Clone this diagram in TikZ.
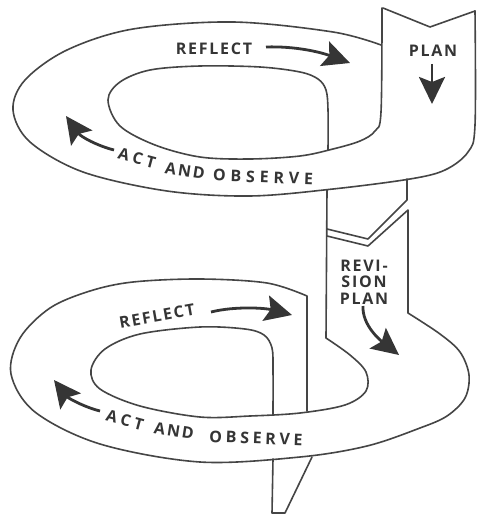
\documentclass[tikz,border=0pt]{standalone}
\usepackage{fontspec}
\newfontfamily\lblfont{Open Sans}[LetterSpace=11]
\newfontfamily\curvfont{Open Sans}[LetterSpace=12]
\newfontfamily\actfont{Open Sans}[LetterSpace=24]
\newfontfamily\widefont{Open Sans}[LetterSpace=30]
\newfontfamily\midfont{Open Sans}[LetterSpace=23]
\usetikzlibrary{arrows.meta}
\definecolor{ink}{HTML}{454545}
\definecolor{txt}{HTML}{353535}
\begin{document}
\begin{tikzpicture}[x=1pt,y=-1pt,
  edge/.style={draw=ink,line width=1.6pt,line join=round,line cap=round},
  arr/.style={draw=txt,line width=2.8pt,-{Stealth[length=27pt,width=26pt,inset=5pt]}},
  lbl/.style={text=txt,font=\lblfont\bfseries\fontsize{16}{16.5}\selectfont,inner sep=0pt},
  wrd/.style={text=txt,font=\curvfont\bfseries\fontsize{16}{16}\selectfont,inner sep=0pt},
  wrdact/.style={text=txt,font=\actfont\bfseries\fontsize{16}{16}\selectfont,inner sep=0pt},
  wrdwide/.style={text=txt,font=\widefont\bfseries\fontsize{16}{16}\selectfont,inner sep=0pt},
  wrdmid/.style={text=txt,font=\midfont\bfseries\fontsize{16}{16}\selectfont,inner sep=0pt}]
\useasboundingbox[fill=white] (0,0) rectangle (476,516);

% ---------- upper loop ----------
% outer edge: PLAN strip right edge, front bottom, left, back top
\draw[edge] plot[smooth,tension=0.55] coordinates {(475,11) (475,125) (468,152) (445,170) (410,179)
  (333,189) (250,196) (167,191) (83,172) (30,142) (13,110) (25,80) (67,50) (133,29) (233,22) (333,32) (381,45)};
% inner edge: PLAN strip left edge, front inner, back inner, down into middle strip
\draw[edge] plot[smooth,tension=0.55] coordinates {(382,8) (381,112) (375,131) (360,141) (333,149)
  (300,156) (250,159) (200,157) (155,145) (120,126) (108,100) (120,82) (150,70) (200,66) (260,67)
  (300,72) (318,79) (326,90) (328,110) (328,150)};
% PLAN strip notch
\draw[edge] (383,8) -- (430,27) -- (475,11);
% middle strip below the upper loop
\draw[edge] (407,179) -- (407,200) -- (368,239) -- (327,229);
% revision strip and lower loop outer edge
\draw[edge] (327,236) -- (368,246) -- (408,210) -- (408,313) -- plot[smooth,tension=0.55] coordinates {
  (408,313) (440,334) (460,352) (469,375) (465,398) (447,416) (420,428) (367,446) (300,457)
  (200,462) (100,444) (35,412) (11,374) (20,338) (50,308) (90,291) (133,282) (200,279) (267,283) (307,296)}
  -- (307,411);
% shared left edge and lower loop inner edge
\draw[edge] (327,190) -- (326,338) -- plot[smooth,tension=0.55] coordinates {
  (326,338) (350,355) (366,372) (366,391) (345,405) (300,413) (250,416) (200,417) (140,406)
  (100,389) (91,370) (105,349) (140,334) (200,327) (245,329) (264,335) (272,348) (273,370) (273,414)};
% strip leaving the lower loop
\draw[edge] (273,459) -- (272,513) -- (285,513) -- (312,457);

% ---------- labels ----------
\node[lbl] (reflectA) at (214,49) {REFLECT};
\node[lbl] (planA) at (433,51) {PLAN};
\node[lbl,align=center] (revision) at (364,282) {REVI-\\SION\\PLAN};
\node[lbl,rotate=10] (reflectB) at (157,316) {REFLECT};
% upper front band
\node[wrdact,rotate=-15] (actA) at (137,158) {ACT};
\node[wrd,rotate=-9] (andA) at (185,171) {AND};
\node[wrdwide,rotate=-2] (obsA) at (263,177) {OBSERVE};
% lower front band
\node[wrdact,rotate=-15] (actB) at (125,420) {ACT};
\node[wrd,rotate=-9] (andB) at (174,431) {AND};
\node[wrdmid,rotate=-2] (obsB) at (256,438) {OBSERVE};

% ---------- arrows ----------
\coordinate (a1s) at (266,47); \coordinate (a1e) at (350,63);
\coordinate (a2s) at (432,64); \coordinate (a2e) at (432,104);
\coordinate (a3s) at (114,150); \coordinate (a3e) at (66,116);
\coordinate (a4s) at (211,312); \coordinate (a4e) at (292,315);
\coordinate (a5s) at (363,306); \coordinate (a5e) at (399,355);
\coordinate (a6s) at (100,411); \coordinate (a6e) at (54,380);
\draw[arr] (a1s) .. controls (295,46) and (320,52) .. (a1e);
\draw[arr] (a2s) -- (a2e);
\draw[arr] (a3s) .. controls (98,146) and (81,137) .. (a3e);
\draw[arr] (a4s) .. controls (235,306) and (265,308) .. (a4e);
\draw[arr] (a5s) .. controls (362,325) and (380,340) .. (a5e);
\draw[arr] (a6s) .. controls (84,407) and (68,398) .. (a6e);
\end{tikzpicture}
\end{document}
